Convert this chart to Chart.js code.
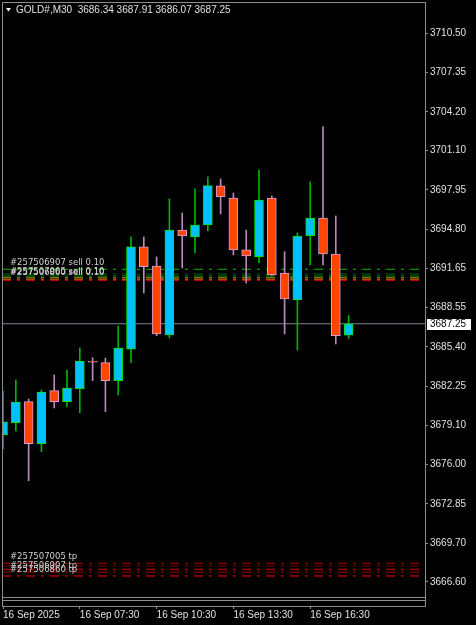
<!DOCTYPE html>
<html>
<head>
<meta charset="utf-8">
<script src="https://cdn.jsdelivr.net/npm/chart.js@4.4.1/dist/chart.umd.min.js"></script>
<style>
  html, body { margin: 0; padding: 0; background: #000; }
  canvas { display: block; }
</style>
</head>
<body>
<canvas id="chart" width="476" height="625"></canvas>
<script>
// GOLD#, M30 candles, 16 Sep 2025 04:30 -> 18:00
const times = ["04:30", "05:00", "05:30", "06:00", "06:30", "07:00", "07:30", "08:00", "08:30", "09:00",
  "09:30", "10:00", "10:30", "11:00", "11:30", "12:00", "12:30", "13:00", "13:30", "14:00",
  "14:30", "15:00", "15:30", "16:00", "16:30", "17:00", "17:30", "18:00"];
const opens = [3678.36, 3679.34, 3681.02, 3677.66, 3681.90, 3681.02, 3682.06, 3684.25, 3684.14, 3682.70,
  3685.21, 3693.41, 3691.87, 3686.35, 3694.75, 3694.19, 3695.15, 3698.27, 3697.31, 3693.17,
  3692.61, 3697.31, 3691.31, 3689.15, 3694.29, 3695.71, 3692.83, 3686.34];
const highs = [3681.87, 3682.75, 3681.23, 3681.95, 3683.15, 3683.55, 3685.31, 3684.54, 3684.51, 3687.07,
  3694.21, 3694.19, 3692.59, 3697.23, 3696.11, 3698.03, 3698.99, 3698.83, 3697.71, 3694.75,
  3699.55, 3697.47, 3693.01, 3694.51, 3698.59, 3703.01, 3695.87, 3687.91];
const lows = [3677.24, 3678.68, 3674.70, 3677.02, 3680.51, 3680.59, 3680.14, 3682.70, 3680.22, 3681.55,
  3684.14, 3689.71, 3686.30, 3686.11, 3691.71, 3692.91, 3694.67, 3696.03, 3692.75, 3690.51,
  3692.11, 3691.10, 3686.43, 3685.15, 3691.95, 3691.95, 3685.63, 3686.07];
const closes = [3679.40, 3680.99, 3677.66, 3681.79, 3681.02, 3682.11, 3684.27, 3684.17, 3682.70, 3685.31,
  3693.41, 3691.81, 3686.43, 3694.75, 3694.27, 3695.15, 3698.29, 3697.39, 3693.15, 3692.67,
  3697.15, 3691.15, 3689.23, 3694.27, 3695.71, 3692.83, 3686.30, 3687.25];

const priceTicks = [3710.50, 3707.35, 3704.20, 3701.10, 3697.95, 3694.80, 3691.65, 3688.55,
  3685.40, 3682.25, 3679.10, 3676.00, 3672.85, 3669.70, 3666.60];
const timeTickIndex = [0, 6, 12, 18, 24];
const timeTickLabels = ["16 Sep 2025", "16 Sep 07:30", "16 Sep 10:30", "16 Sep 13:30", "16 Sep 16:30"];

// trade levels (open / sl / tp lines)
const orderLevels = [3691.61, 3691.23, 3691.07, 3690.93, 3690.81, 3690.73,
  3668.10, 3667.88, 3667.62, 3667.40, 3667.08];
const orderLabels = ["#257506907 sell 0.10", "", "", "#257507005 sell 0.10", "#257506860 sell 0.10", "",
  "#257507005 tp", "", "", "#257506907 tp", "#257506860 tp"];

const levelColors = ["#00c000", "#006400", "#008c00", "#a0a000", "#e06000", "#ff0000",
  "#b00000", "#800000", "#e00000", "#a00000", "#ff0000"];

const bullFill = "#00bfff";
const bullLine = "#00e000";
const bullWick = "#00b400";
const bearFill = "#ff4500";
const bearLine = "#d8a0d8";
const bearWick = "#b888b8";
const frameColor = "#8c8c8c";
const textColor = "#e0e0e0";

const xMin = -0.08;
const xMax = 32.97;
const yMin = 3664.68;
const yMax = 3712.98;

const isBull = (i) => closes[i] >= opens[i];
const lastClose = closes[closes.length - 1];

const levelDatasets = orderLevels.map((level, i) => ({
  type: "line",
  data: [{ x: xMin, y: level }, { x: xMax, y: level }],
  borderColor: levelColors[i],
  borderWidth: 1,
  borderDash: [9, 6, 3, 6],
  pointRadius: 0,
  order: 3
}));

const mtFrame = {
  id: "mtFrame",
  beforeDraw(chart) {
    const ctx = chart.ctx;
    ctx.save();
    ctx.fillStyle = "#000";
    ctx.fillRect(0, 0, chart.width, chart.height);
    ctx.restore();
  },
  afterDraw(chart) {
    const { ctx, chartArea } = chart;
    const y = chart.scales.y;
    const { left, right, top, bottom } = chartArea;
    ctx.save();

    // frame lines
    ctx.strokeStyle = frameColor;
    ctx.lineWidth = 1;
    ctx.beginPath();
    ctx.moveTo(left + 0.5, bottom);
    ctx.lineTo(left + 0.5, top + 0.5);
    ctx.lineTo(right, top + 0.5);
    ctx.moveTo(left, bottom - 8.5);
    ctx.lineTo(right, bottom - 8.5);
    ctx.moveTo(left, bottom - 5.5);
    ctx.lineTo(right, bottom - 5.5);
    ctx.stroke();

    // order labels
    ctx.font = "8.5px 'DejaVu Sans'";
    ctx.fillStyle = "#d0d0d0";
    ctx.textBaseline = "alphabetic";
    ctx.textAlign = "left";
    orderLevels.forEach((level, i) => {
      if (!orderLabels[i]) return;
      ctx.fillText(orderLabels[i], 10, y.getPixelForValue(level) - 4);
    });

    // last price box
    const py = Math.round(y.getPixelForValue(lastClose));
    ctx.fillStyle = "#fff";
    ctx.fillRect(right + 2, py - 5, 44, 11);
    ctx.fillStyle = "#000";
    ctx.font = "10px 'Liberation Sans'";
    ctx.textBaseline = "middle";
    ctx.fillText(lastClose.toFixed(2), right + 5, py + 0.5);

    // header
    ctx.fillStyle = "#fff";
    ctx.beginPath();
    ctx.moveTo(6, 8);
    ctx.lineTo(11, 8);
    ctx.lineTo(8.5, 11.5);
    ctx.closePath();
    ctx.fill();
    ctx.fillStyle = textColor;
    ctx.font = "10px 'Liberation Sans'";
    ctx.fillText("GOLD#,M30  " + [opens, highs, lows, closes].map((s) => s[s.length - 1].toFixed(2)).join(" "), 16, 10);
    ctx.restore();
  }
};

Chart.defaults.font.family = "'Liberation Sans', Arial, sans-serif";
Chart.defaults.font.size = 10;

new Chart(document.getElementById("chart"), {
  type: "bar",
  plugins: [mtFrame],
  data: {
    datasets: [
      {
        label: "Body",
        data: times.map((t, i) => ({ x: i, y: [opens[i], closes[i]] })),
        backgroundColor: (c) => (isBull(c.dataIndex) ? bullFill : bearFill),
        borderColor: (c) => (isBull(c.dataIndex) ? bullLine : bearLine),
        borderWidth: 1,
        borderSkipped: false,
        barThickness: 9,
        grouped: false,
        order: 0
      },
      {
        label: "Wick",
        data: times.map((t, i) => ({ x: i, y: [lows[i], highs[i]] })),
        backgroundColor: (c) => (isBull(c.dataIndex) ? bullWick : bearWick),
        borderWidth: 0,
        barThickness: 1,
        grouped: false,
        order: 1
      },
      {
        type: "line",
        label: "Price",
        data: [{ x: xMin, y: lastClose }, { x: xMax, y: lastClose }],
        borderColor: "#778899",
        borderWidth: 1,
        pointRadius: 0,
        order: 2
      },
      ...levelDatasets
    ]
  },
  options: {
    responsive: false,
    animation: false,
    layout: { padding: { left: 2, top: 2, right: 0, bottom: 0 } },
    plugins: {
      legend: { display: false },
      tooltip: { enabled: false }
    },
    scales: {
      x: {
        type: "linear",
        min: xMin,
        max: xMax,
        offset: false,
        afterBuildTicks(axis) {
          axis.ticks = timeTickIndex.map((v) => ({ value: v }));
        },
        afterFit(axis) {
          axis.height = 19;
          axis.paddingLeft = 0;
          axis.paddingRight = 0;
        },
        grid: { display: true, offset: false, drawOnChartArea: false, drawTicks: true, tickLength: 3, color: frameColor },
        border: { display: true, color: frameColor },
        ticks: {
          color: textColor,
          autoSkip: false,
          maxRotation: 0,
          align: "start",
          padding: 0,
          callback: (value, index) => timeTickLabels[index]
        }
      },
      y: {
        type: "linear",
        position: "right",
        min: yMin,
        max: yMax,
        afterBuildTicks(axis) {
          axis.ticks = priceTicks.map((v) => ({ value: v }));
        },
        afterFit(axis) {
          axis.width = 51;
          axis.paddingTop = 0;
          axis.paddingBottom = 0;
        },
        grid: { display: true, drawOnChartArea: false, drawTicks: true, tickLength: 3, color: frameColor },
        border: { display: true, color: frameColor },
        ticks: {
          color: textColor,
          autoSkip: false,
          padding: 2,
          callback: (value) => value.toFixed(2)
        }
      }
    }
  }
});
</script>
</body>
</html>
